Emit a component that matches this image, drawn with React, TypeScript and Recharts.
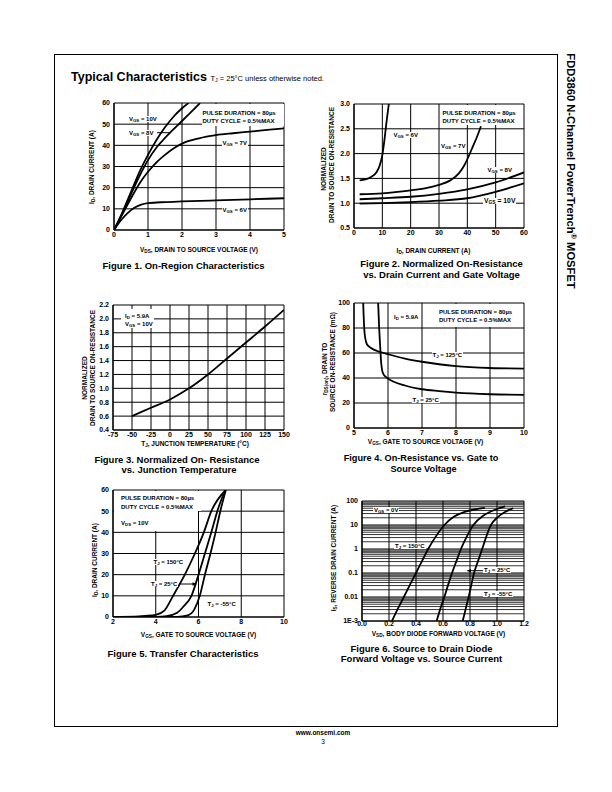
import React from 'react';
import { LineChart, Line, XAxis, YAxis, CartesianGrid, ReferenceLine } from 'recharts';

const FONT = '"Liberation Sans", Arial, Helvetica, sans-serif';

// ---------- Figure 1: On-Region Characteristics ----------
const f1XTicks = [0, 1, 2, 3, 4, 5];
const f1YTicks = [0, 10, 20, 30, 40, 50, 60];
const f1Vgs10 = [[0, 0], [0.25, 8.5], [0.5, 18], [0.75, 27.5], [1, 35.5], [1.25, 42.5], [1.5, 48.5], [1.75, 53.5], [2, 57.5], [2.19, 60]];
const f1Vgs8 = [[0, 0], [0.25, 8], [0.5, 17], [0.75, 25.5], [1, 33], [1.25, 39], [1.5, 43.5], [1.65, 46], [2, 51.5], [2.25, 55.5], [2.53, 60]];
const f1Vgs7 = [[0, 0], [0.25, 7.5], [0.5, 15], [0.75, 22], [1, 27.5], [1.25, 32], [1.5, 35.5], [1.75, 38.5], [2, 40.8], [2.5, 43.3], [3, 44.8], [3.5, 45.7], [4, 46.5], [4.5, 47.3], [5, 48]];
const f1Vgs6 = [[0, 0], [0.2, 4.5], [0.4, 8], [0.6, 10.5], [0.8, 12], [1, 12.7], [1.5, 13.2], [2, 13.5], [3, 14], [4, 14.5], [5, 15]];

// ---------- Figure 2: Normalized On-Resistance vs Drain Current ----------
const f2XTicks = [0, 10, 20, 30, 40, 50, 60];
const f2YTicks = [0.5, 1.0, 1.5, 2.0, 2.5, 3.0];
const f2Vgs6 = [[2, 1.46], [4, 1.48], [6, 1.53], [8, 1.63], [9, 1.75], [10, 1.97], [10.8, 2.3], [11.4, 2.6], [12.3, 3.0]];
const f2Vgs7 = [[2, 1.18], [10, 1.2], [20, 1.26], [25, 1.3], [30, 1.37], [34, 1.46], [37, 1.6], [39, 1.77], [40.5, 1.95], [42, 2.15], [43.5, 2.35], [44.8, 2.55]];
const f2Vgs8 = [[2, 1.08], [10, 1.1], [20, 1.13], [30, 1.19], [40, 1.28], [50, 1.42], [60, 1.62]];
const f2Vgs10 = [[2, 0.99], [10, 1.0], [20, 1.02], [30, 1.05], [40, 1.1], [50, 1.23], [60, 1.4]];

// ---------- Figure 3: Normalized On-Resistance vs Junction Temperature ----------
const f3XTicks = [-75, -50, -25, 0, 25, 50, 75, 100, 125, 150];
const f3YTicks = [0.4, 0.6, 0.8, 1.0, 1.2, 1.4, 1.6, 1.8, 2.0, 2.2];
const f3Curve = [[-50, 0.6], [-25, 0.72], [0, 0.84], [25, 1.0], [50, 1.2], [75, 1.43], [100, 1.66], [125, 1.89], [150, 2.13]];

// ---------- Figure 4: On-Resistance vs Gate to Source Voltage ----------
const f4XTicks = [5, 6, 7, 8, 9, 10];
const f4YTicks = [0, 20, 40, 60, 80, 100];
const f4Tj125 = [[5.27, 100], [5.3, 80], [5.33, 72], [5.38, 67], [5.5, 64], [5.75, 61], [6, 59], [6.5, 55.5], [7, 53], [7.5, 51], [8, 49.5], [9, 48], [10, 47.5]];
const f4Tj25 = [[5.71, 100], [5.74, 80], [5.77, 65], [5.8, 52], [5.85, 44], [5.95, 40.5], [6, 39.5], [6.5, 34], [7, 31], [7.5, 29.5], [8, 28.3], [9, 27], [10, 26.5]];

// ---------- Figure 5: Transfer Characteristics ----------
const f5XTicks = [2, 4, 6, 8, 10];
const f5YTicks = [0, 10, 20, 30, 40, 50, 60];
const f5Tj150 = [[2, 0.1], [3, 0.2], [3.5, 0.5], [4, 1], [4.4, 3], [4.81, 10], [5.36, 20], [5.83, 30], [6.25, 40], [6.6, 50], [7.27, 60]];
const f5Tj25 = [[2, 0], [4, 0.1], [4.5, 0.4], [5, 2], [5.3, 5], [5.67, 10], [6, 20], [6.3, 30], [6.6, 40], [6.88, 50], [7.25, 60]];
const f5TjM55 = [[2, 0], [5, 0.1], [5.5, 0.8], [5.8, 3.5], [6.06, 10], [6.3, 20], [6.56, 30], [6.8, 40], [7.02, 50], [7.28, 60]];

// ---------- Figure 6: Source to Drain Diode Forward Voltage ----------
const f6XTicks = [0, 0.2, 0.4, 0.6, 0.8, 1.0, 1.2];
const f6YTicks = [0.001, 0.01, 0.1, 1, 10, 100];
const f6Tj150 = [[0.222, 0.001], [0.265, 0.0032], [0.31, 0.01], [0.355, 0.032], [0.4, 0.1], [0.445, 0.32], [0.49, 1], [0.545, 3.2], [0.61, 10], [0.68, 22], [0.76, 35], [0.84, 45], [0.91, 52]];
const f6Tj25 = [[0.553, 0.001], [0.58, 0.0032], [0.61, 0.01], [0.638, 0.032], [0.667, 0.1], [0.7, 0.32], [0.733, 1], [0.775, 3.2], [0.825, 10], [0.9, 25], [0.98, 42], [1.06, 60]];
const f6TjM55 = [[0.746, 0.001], [0.768, 0.0032], [0.79, 0.01], [0.81, 0.032], [0.83, 0.1], [0.86, 0.32], [0.89, 1], [0.92, 3.2], [0.955, 10], [1.0, 20], [1.06, 35], [1.12, 50]];
const f6Minor: number[] = [];
for (let k = -3; k <= 1; k++) {
  for (let m = 2; m <= 9; m++) f6Minor.push(m * Math.pow(10, k));
}

type Series = number[][];
interface PanelProps {
  left: number; top: number; pw: number; ph: number;
  xDomain: [number, number]; xTicks: number[];
  yDomain: [number, number]; yTicks: number[];
  yLog?: boolean; xTickMargin?: number;
  xFmt?: (v: number) => string; yFmt?: (v: number) => string;
  series: Series[]; minorY?: number[];
}

const tickStyle = { fontSize: 7, fontWeight: 700, fill: '#000', fontFamily: FONT };

function Panel(p: PanelProps) {
  const W = p.pw + 40;
  const H = p.ph + 25;
  return (
    <div style={{ position: 'absolute', left: p.left - 30, top: p.top - 5 }}>
      <LineChart width={W} height={H} margin={{ top: 5, right: 10, bottom: 0, left: 0 }}>
        <CartesianGrid stroke="#000" strokeWidth={1} />
        {(p.minorY || []).map((v) => (
          <ReferenceLine key={v} y={v} stroke="#000" strokeWidth={0.8} />
        ))}
        <XAxis
          type="number" dataKey="x" domain={p.xDomain} ticks={p.xTicks} interval={0}
          allowDataOverflow height={20} tickLine={false} tickSize={0} tickMargin={p.xTickMargin ?? 2}
          axisLine={{ stroke: '#000', strokeWidth: 1.2 }} tick={tickStyle} tickFormatter={p.xFmt}
        />
        <YAxis
          type="number" scale={p.yLog ? 'log' : 'linear'} domain={p.yDomain} ticks={p.yTicks} interval={0}
          allowDataOverflow width={30} tickLine={false} tickSize={0} tickMargin={4}
          axisLine={{ stroke: '#000', strokeWidth: 1.2 }} tick={tickStyle} tickFormatter={p.yFmt}
        />
        {p.series.map((s, i) => (
          <Line
            key={i} data={s.map(([x, y]) => ({ x, y }))} dataKey="y" type="monotone"
            stroke="#000" strokeWidth={1.8} dot={false} activeDot={false} isAnimationActive={false}
          />
        ))}
      </LineChart>
    </div>
  );
}

const Sub = ({ children }: { children: React.ReactNode }) => (
  <span style={{ fontSize: '0.72em', position: 'relative', top: '0.28em' }}>{children}</span>
);

function Ann({ x, y, size = 6, bg = true, children }: { x: number; y: number; size?: number; bg?: boolean; children: React.ReactNode }) {
  return (
    <div style={{
      position: 'absolute', left: x, top: y, fontSize: size, fontWeight: 700, fontFamily: FONT,
      lineHeight: 1, whiteSpace: 'nowrap', background: bg ? '#fff' : 'transparent', padding: '0 1px', color: '#000',
    }}>{children}</div>
  );
}

function Box({ x, y, w, h }: { x: number; y: number; w: number; h: number }) {
  return <div style={{ position: 'absolute', left: x, top: y, width: w, height: h, background: '#fff' }} />;
}

function XTitle({ cx, y, children }: { cx: number; y: number; children: React.ReactNode }) {
  return (
    <div style={{
      position: 'absolute', left: cx, top: y, transform: 'translateX(-50%)', fontSize: 6.5, fontWeight: 700,
      fontFamily: FONT, lineHeight: 1, whiteSpace: 'nowrap',
    }}>{children}</div>
  );
}

function YTitle({ cx, cy, children }: { cx: number; cy: number; children: React.ReactNode }) {
  return (
    <div style={{
      position: 'absolute', left: cx, top: cy, transform: 'translate(-50%,-50%) rotate(-90deg)', fontSize: 6.5,
      fontWeight: 700, fontFamily: FONT, lineHeight: 1, whiteSpace: 'nowrap',
    }}>{children}</div>
  );
}

function Caption({ cx, y, size = 9.5, children }: { cx: number; y: number; size?: number; children: React.ReactNode }) {
  return (
    <div style={{
      position: 'absolute', left: cx, top: y, transform: 'translateX(-50%)', fontSize: size, fontWeight: 700,
      fontFamily: FONT, lineHeight: 1, whiteSpace: 'nowrap',
    }}>{children}</div>
  );
}

const fx1 = (v: number) => v.toFixed(1);
const f6y = (v: number) => (v < 0.005 ? '1E-3' : String(v));

export default function App() {
  return (
    <div style={{ position: 'absolute', left: 0, top: 0, width: 612, height: 792, background: '#fff', fontFamily: FONT, color: '#000' }}>
      {/* page frame */}
      <div style={{ position: 'absolute', left: 54, top: 54, width: 504, height: 673, border: '1px solid #000', boxSizing: 'border-box' }} />

      {/* header */}
      <div style={{ position: 'absolute', left: 71, top: 70.5, fontSize: 12.5, fontWeight: 700, lineHeight: 1, whiteSpace: 'nowrap' }}>
        Typical Characteristics{' '}
        <span style={{ fontSize: 7.5, fontWeight: 400 }}>T<Sub>J</Sub> = 25°C unless otherwise noted.</span>
      </div>

      {/* right vertical title */}
      <div style={{
        position: 'absolute', left: 571, top: 171, transform: 'translate(-50%,-50%) rotate(90deg)', fontSize: 11.2,
        fontWeight: 700, lineHeight: 1, whiteSpace: 'nowrap',
      }}>
        FDD3860 N-Channel PowerTrench<sup style={{ fontSize: '0.65em' }}>®</sup> MOSFET
      </div>

      {/* Figure 1 */}
      <Panel left={114} top={103} pw={170} ph={127} xDomain={[0, 5]} xTicks={f1XTicks} yDomain={[0, 60]} yTicks={f1YTicks}
        series={[f1Vgs10, f1Vgs8, f1Vgs7, f1Vgs6]} />
      <Box x={202} y={104} w={81.5} h={21.5} />
      <Ann x={201.5} y={109.5}>PULSE DURATION = 80µs</Ann>
      <Ann x={201.5} y={118}>DUTY CYCLE = 0.5%MAX</Ann>
      <Ann x={128} y={115.5}>V<Sub>GS</Sub> = 10V</Ann>
      <Ann x={128} y={129.5}>V<Sub>GS</Sub> = 8V</Ann>
      <Ann x={221.5} y={140}>V<Sub>GS</Sub> = 7V</Ann>
      <Ann x={221.5} y={207}>V<Sub>GS</Sub> = 6V</Ann>
      <XTitle cx={199} y={246.5}>V<Sub>DS</Sub>, DRAIN TO SOURCE VOLTAGE (V)</XTitle>
      <YTitle cx={92} cy={167}>I<Sub>D</Sub>, DRAIN CURRENT (A)</YTitle>
      <Caption cx={183.5} y={260.5}>Figure 1.  On-Region Characteristics</Caption>

      {/* Figure 2 */}
      <Panel left={354} top={104} pw={170} ph={124} xDomain={[0, 60]} xTicks={f2XTicks} yDomain={[0.5, 3.0]} yTicks={f2YTicks}
        yFmt={fx1} series={[f2Vgs6, f2Vgs7, f2Vgs8, f2Vgs10]} />
      <Box x={440} y={105} w={83} h={20} />
      <Ann x={441.5} y={110}>PULSE DURATION = 80µs</Ann>
      <Ann x={441.5} y={118}>DUTY CYCLE = 0.5%MAX</Ann>
      <Ann x={392.5} y={131.5}>V<Sub>GS</Sub> = 6V</Ann>
      <Ann x={440} y={143}>V<Sub>GS</Sub> = 7V</Ann>
      <Ann x={486.5} y={166.5}>V<Sub>GS</Sub> = 8V</Ann>
      <Ann x={483} y={197.5} size={6.8}>V<Sub>GS</Sub> = 10V</Ann>
      <XTitle cx={433.5} y={247.5}>I<Sub>D</Sub>, DRAIN CURRENT (A)</XTitle>
      <YTitle cx={323.5} cy={169}>NORMALIZED</YTitle>
      <YTitle cx={332} cy={165}>DRAIN TO SOURCE ON-RESISTANCE</YTitle>
      <Caption cx={441.5} y={259}>Figure 2. Normalized On-Resistance</Caption>
      <Caption cx={441.5} y={269.5}>vs. Drain Current and Gate Voltage</Caption>

      {/* Figure 3 */}
      <Panel left={113} top={305} pw={171} ph={125} xDomain={[-75, 150]} xTicks={f3XTicks} yDomain={[0.4, 2.2]} yTicks={f3YTicks}
        yFmt={fx1} series={[f3Curve]} />
      <Box x={121} y={309} w={33} h={19} />
      <Ann x={124} y={313}>I<Sub>D</Sub> = 5.9A</Ann>
      <Ann x={124} y={321}>V<Sub>GS</Sub> = 10V</Ann>
      <XTitle cx={195} y={440.5}>T<Sub>J</Sub>, JUNCTION TEMPERATURE (°C)</XTitle>
      <YTitle cx={84.5} cy={378}>NORMALIZED</YTitle>
      <YTitle cx={92.5} cy={368}>DRAIN TO SOURCE ON-RESISTANCE</YTitle>
      <Caption cx={177} y={454.5}>Figure 3. Normalized On- Resistance</Caption>
      <Caption cx={179} y={464.5}>vs. Junction Temperature</Caption>

      {/* Figure 4 */}
      <Panel left={354} top={303} pw={170} ph={125} xDomain={[5, 10]} xTicks={f4XTicks} yDomain={[0, 100]} yTicks={f4YTicks}
        series={[f4Tj125, f4Tj25]} />
      <Box x={390} y={304} w={31} h={21.5} />
      <Box x={436} y={304} w={87} h={22.5} />
      <Ann x={393} y={314}>I<Sub>D</Sub> = 5.9A</Ann>
      <Ann x={438} y={309}>PULSE DURATION = 80µs</Ann>
      <Ann x={438} y={317}>DUTY CYCLE = 0.5%MAX</Ann>
      <Ann x={431.5} y={352}>T<Sub>J</Sub> = 125°C</Ann>
      <Ann x={411.5} y={397}>T<Sub>J</Sub> = 25°C</Ann>
      <XTitle cx={425.5} y={439}>V<Sub>GS</Sub>, GATE TO SOURCE VOLTAGE (V)</XTitle>
      <YTitle cx={324.5} cy={369}>r<Sub>DS(on)</Sub>, DRAIN TO</YTitle>
      <YTitle cx={333} cy={362}>SOURCE ON-RESISTANCE (mΩ)</YTitle>
      <Caption cx={421} y={454} size={9.2}>Figure 4.  On-Resistance vs. Gate to</Caption>
      <Caption cx={423.5} y={464.5} size={9.2}>Source Voltage</Caption>

      {/* Figure 5 */}
      <Panel left={113} top={490} pw={171} ph={127} xDomain={[2, 10]} xTicks={f5XTicks} yDomain={[0, 60]} yTicks={f5YTicks}
        series={[f5Tj150, f5Tj25, f5TjM55]} />
      <Box x={114} y={491} w={84} h={40} />
      <Box x={197} y={491} w={4} h={19.5} />
      <Ann x={120} y={494.5}>PULSE DURATION = 80µs</Ann>
      <Ann x={120} y={503.5}>DUTY CYCLE = 0.5%MAX</Ann>
      <Ann x={120} y={520}>V<Sub>DS</Sub> = 10V</Ann>
      <Ann x={152.5} y={559}>T<Sub>J</Sub> = 150°C</Ann>
      <Ann x={150} y={580.5}>T<Sub>J</Sub> = 25°C</Ann>
      <Ann x={206.5} y={600.5}>T<Sub>J</Sub> = -55°C</Ann>
      <XTitle cx={198.5} y={631.5}>V<Sub>GS</Sub>, GATE TO SOURCE VOLTAGE (V)</XTitle>
      <YTitle cx={95} cy={560}>I<Sub>D</Sub>, DRAIN CURRENT (A)</YTitle>
      <Caption cx={183} y={649}>Figure 5.  Transfer Characteristics</Caption>

      {/* Figure 6 */}
      <Panel left={362} top={501} pw={162} ph={120} xDomain={[0, 1.2]} xTicks={f6XTicks} yDomain={[0.001, 100]} yTicks={f6YTicks}
        yLog xTickMargin={0.5} xFmt={fx1} yFmt={f6y} minorY={f6Minor} series={[f6Tj150, f6Tj25, f6TjM55]} />
      <Ann x={373} y={506.5}>V<Sub>GS</Sub> = 0V</Ann>
      <Ann x={394} y={542.5}>T<Sub>J</Sub> = 150°C</Ann>
      <Ann x={483} y={567}>T<Sub>J</Sub> = 25°C</Ann>
      <Ann x={483} y={590.5}>T<Sub>J</Sub> = -55°C</Ann>
      <XTitle cx={438.5} y={631}>V<Sub>SD</Sub>, BODY DIODE FORWARD VOLTAGE (V)</XTitle>
      <YTitle cx={333.5} cy={558}>I<Sub>S</Sub>, REVERSE DRAIN CURRENT (A)</YTitle>
      <Caption cx={421.5} y={644}>Figure 6.  Source to Drain Diode</Caption>
      <Caption cx={421.5} y={653.5}>Forward Voltage vs. Source Current</Caption>

      {/* pointer lines */}
      <svg width={612} height={792} style={{ position: 'absolute', left: 0, top: 0, pointerEvents: 'none' }}>
        <line x1={157} y1={132.7} x2={170.5} y2={132.7} stroke="#000" strokeWidth={1} />
        <line x1={179.5} y1={584} x2={194} y2={584} stroke="#000" strokeWidth={1} />
        <polygon points="197,584 192.5,582.2 192.5,585.8" fill="#000" />
        <line x1={483} y1={570.7} x2={469.5} y2={570.7} stroke="#000" strokeWidth={1} />
        <polygon points="466.5,570.7 471,568.9 471,572.5" fill="#000" />
      </svg>

      {/* footer */}
      <div style={{ position: 'absolute', left: 323, top: 730, transform: 'translateX(-50%)', fontSize: 6.5, fontWeight: 700, lineHeight: 1, whiteSpace: 'nowrap' }}>
        www.onsemi.com
      </div>
      <div style={{ position: 'absolute', left: 323, top: 738.5, transform: 'translateX(-50%)', fontSize: 6.5, lineHeight: 1 }}>3</div>
    </div>
  );
}
